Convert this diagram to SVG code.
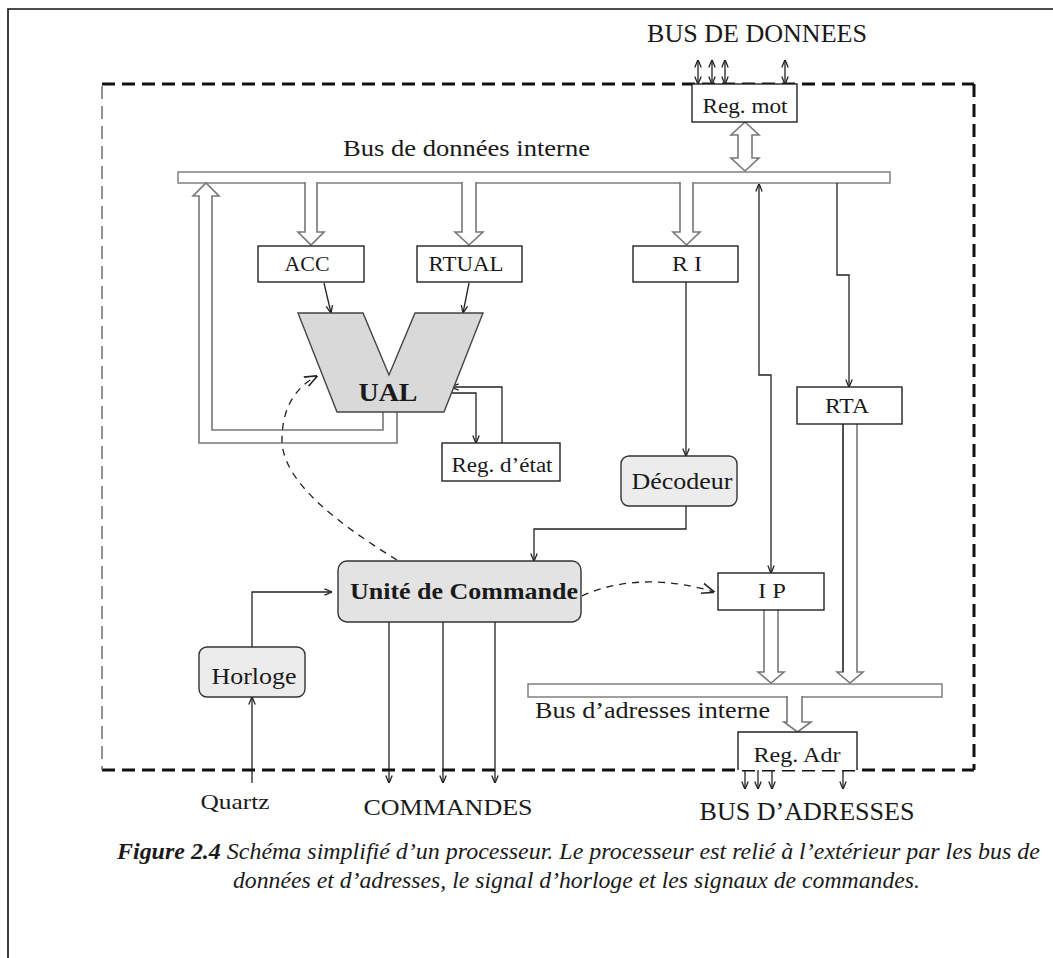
<svg xmlns="http://www.w3.org/2000/svg" width="1053" height="958" viewBox="0 0 1053 958" font-family="'Liberation Serif', 'Times New Roman', Times, serif">
<style>
text{fill:#1a1a1a}
.lbl{font-size:20px;text-anchor:middle}
.big{font-size:23px}
.box{fill:#fff;stroke:#222;stroke-width:1.4}
.rbox{fill:#ececec;stroke:#333;stroke-width:1.4}
.bus{fill:#fff;stroke:#888;stroke-width:1.6}
.hol{fill:#fff;stroke:#777;stroke-width:1.6;stroke-linejoin:miter}
.ln{fill:none;stroke:#222;stroke-width:1.3}
.dash{fill:none;stroke:#222;stroke-width:1.3;stroke-dasharray:7 6}
.frame{fill:none;stroke:#111;stroke-width:3;stroke-dasharray:13 7}
</style>
<defs>
<marker id="ah" viewBox="0 0 10 10" refX="9.5" refY="5" markerWidth="8" markerHeight="8" markerUnits="userSpaceOnUse" orient="auto-start-reverse">
<path d="M0,1 L10,5 L0,9" fill="none" stroke="#222" stroke-width="1.6"/>
</marker>
<marker id="ahd" viewBox="0 0 10 10" refX="9.5" refY="5" markerWidth="13" markerHeight="13" markerUnits="userSpaceOnUse" orient="auto">
<path d="M0,1 L10,5 L0,9" fill="none" stroke="#222" stroke-width="1.2"/>
</marker>
</defs>

<path d="M8,958 V9 H1053" fill="none" stroke="#111" stroke-width="1.6"/>
<g id="frame">
<line x1="102" y1="84" x2="974" y2="84" class="frame"/>
<line x1="974" y1="84" x2="974" y2="770" class="frame"/>
<line x1="102" y1="770" x2="974" y2="770" class="frame"/>
<line x1="102" y1="86" x2="102" y2="770" fill="none" stroke="#666" stroke-width="1.4" stroke-dasharray="13 7"/>
</g>

<g id="data-bus">
<rect x="178" y="172" width="712" height="11" class="bus"/>
<text x="343" y="156" class="big" textLength="247" lengthAdjust="spacingAndGlyphs">Bus de données interne</text>
</g>
<g id="addr-bus">
<rect x="528" y="684" width="414" height="13" class="bus"/>
<text x="535" y="718" class="big" textLength="235" lengthAdjust="spacingAndGlyphs">Bus d’adresses interne</text>
</g>

<g id="connectors">
<path class="hol" d="M305,182 V232 H298 L311,245 L324,232 H317 V182"/>
<path class="hol" d="M462,182 V232 H455 L469,245 L483,232 H476 V182"/>
<path class="hol" d="M680,182 V232 H673 L686.5,245 L700,232 H693 V182"/>
<path class="hol" d="M745,122 L759,135 H752 V158 H759 L745,171 L731,158 H738 V135 H731 Z"/>
<path d="M397,412 V443 H199 V196 H193 L206,183 L219,196 H212 V430 H383 V412" fill="none" stroke="#777" stroke-width="1.6"/>
<path class="hol" d="M764,610 V672 H758 L771,683 L784,672 H778 V610"/>
<path class="hol" d="M843,424 V672 H837 L850,683 L863,672 H857 V424"/>
<path class="hol" d="M787,696 V722 H784 L797.5,732 L811,722 H808 H802 V696"/>
<line x1="843" y1="424" x2="843" y2="672" stroke="#333" stroke-width="1.4"/>

<line x1="698" y1="60" x2="698" y2="84" class="ln" marker-start="url(#ah)" marker-end="url(#ah)"/>
<line x1="712" y1="60" x2="712" y2="84" class="ln" marker-start="url(#ah)" marker-end="url(#ah)"/>
<line x1="725" y1="60" x2="725" y2="84" class="ln" marker-start="url(#ah)" marker-end="url(#ah)"/>
<line x1="785" y1="60" x2="785" y2="84" class="ln" marker-start="url(#ah)" marker-end="url(#ah)"/>

<line x1="745" y1="770" x2="745" y2="789" class="ln" marker-end="url(#ah)"/>
<line x1="758" y1="770" x2="758" y2="789" class="ln" marker-end="url(#ah)"/>
<line x1="772" y1="770" x2="772" y2="789" class="ln" marker-end="url(#ah)"/>
<line x1="843" y1="770" x2="843" y2="789" class="ln" marker-end="url(#ah)"/>

<line x1="324" y1="283" x2="331" y2="313" class="ln" marker-end="url(#ah)"/>
<line x1="469" y1="283" x2="463" y2="313" class="ln" marker-end="url(#ah)"/>
<path class="ln" d="M448,393 H476 V443" marker-end="url(#ah)"/>
<path class="ln" d="M502,443 V387 H451" marker-end="url(#ah)"/>
<path class="ln" d="M686,282 V456" marker-end="url(#ah)"/>
<path class="ln" d="M771,573 V375 H759 V184" marker-start="url(#ah)" marker-end="url(#ah)"/>
<path class="ln" d="M837,183 V275 H849 V387" marker-end="url(#ah)"/>
<path class="ln" d="M686,506 V529 H534 V561" marker-end="url(#ah)"/>
<path class="ln" d="M252,647 V592 H332" marker-end="url(#ah)"/>
<path class="ln" d="M252,783 V697" marker-end="url(#ah)"/>
<path class="ln" d="M389,622 V783" marker-end="url(#ah)"/>
<path class="ln" d="M443,622 V783" marker-end="url(#ah)"/>
<path class="ln" d="M495,622 V783" marker-end="url(#ah)"/>
<path class="dash" d="M397,560 C340,525 282,482 282,440 C282,405 298,386 317,376" marker-end="url(#ahd)"/>
<path class="dash" d="M582,596 C620,578 670,578 714,592" marker-end="url(#ahd)"/>
</g>

<g id="reg-mot">
<rect x="692" y="84" width="105" height="38" class="box"/>
<text x="745" y="113" class="lbl" textLength="85" lengthAdjust="spacingAndGlyphs">Reg. mot</text>
</g>
<g id="acc">
<rect x="258" y="246" width="106" height="36" class="box"/>
<text x="307" y="271" class="lbl" textLength="45" lengthAdjust="spacingAndGlyphs">ACC</text>
</g>
<g id="rtual">
<rect x="417" y="246" width="105" height="36" class="box"/>
<text x="466" y="271" class="lbl" textLength="75" lengthAdjust="spacingAndGlyphs">RTUAL</text>
</g>
<g id="ri">
<rect x="633" y="246" width="105" height="36" class="box"/>
<text x="687" y="271" class="lbl" textLength="30" lengthAdjust="spacingAndGlyphs">R I</text>
</g>
<g id="ual">
<polygon points="298,313 363,313 389,375 415,313 483,313 444,412 337,412" fill="#d9d9d9" stroke="#444" stroke-width="1.4"/>
<text x="388" y="401" class="lbl" style="font-size:25px;font-weight:bold" textLength="59" lengthAdjust="spacingAndGlyphs">UAL</text>
</g>
<g id="reg-etat">
<rect x="442" y="443" width="118" height="38" class="box"/>
<text x="502" y="472" class="lbl" textLength="101" lengthAdjust="spacingAndGlyphs">Reg. d’état</text>
</g>
<g id="rta">
<rect x="797" y="387" width="105" height="37" class="box"/>
<text x="847" y="413" class="lbl" textLength="44" lengthAdjust="spacingAndGlyphs">RTA</text>
</g>
<g id="decodeur">
<rect x="621" y="456" width="116" height="50" rx="8" class="rbox"/>
<text x="682" y="489" class="lbl big" textLength="101" lengthAdjust="spacingAndGlyphs">Décodeur</text>
</g>
<g id="unite-commande">
<rect x="338" y="561" width="243" height="61" rx="9" fill="#e3e3e3" stroke="#333" stroke-width="1.4"/>
<text x="464" y="599" class="lbl big" style="font-weight:bold" textLength="228" lengthAdjust="spacingAndGlyphs">Unité de Commande</text>
</g>
<g id="ip">
<rect x="718" y="573" width="106" height="37" class="box"/>
<text x="772" y="598" class="lbl" textLength="28" lengthAdjust="spacingAndGlyphs">I P</text>
</g>
<g id="horloge">
<rect x="199" y="647" width="106" height="50" rx="8" class="rbox"/>
<text x="254" y="684" class="lbl big" textLength="85" lengthAdjust="spacingAndGlyphs">Horloge</text>
</g>
<g id="reg-adr">
<path d="M738,770 V732 H857 V770" fill="#fff" stroke="#222" stroke-width="1.4"/>
<text x="797" y="762" class="lbl" textLength="87" lengthAdjust="spacingAndGlyphs">Reg. Adr</text>
</g>

<g id="labels">
<text x="757" y="42" class="lbl" style="font-size:25px" textLength="220" lengthAdjust="spacingAndGlyphs">BUS DE DONNEES</text>
<text x="235" y="809" class="lbl" style="font-size:22px" textLength="69" lengthAdjust="spacingAndGlyphs">Quartz</text>
<text x="448" y="815" class="lbl" style="font-size:24px" textLength="169" lengthAdjust="spacingAndGlyphs">COMMANDES</text>
<text x="807" y="820" class="lbl" style="font-size:25px" textLength="215" lengthAdjust="spacingAndGlyphs">BUS D’ADRESSES</text>
</g>

<g id="caption" style="font-size:23.5px;font-style:italic">
<text x="117" y="859" textLength="923" lengthAdjust="spacingAndGlyphs"><tspan font-weight="bold">Figure 2.4</tspan> Schéma simplifié d’un processeur. Le processeur est relié à l’extérieur par les bus de</text>
<text x="233" y="888" textLength="687" lengthAdjust="spacingAndGlyphs">données et d’adresses, le signal d’horloge et les signaux de commandes.</text>
</g>
</svg>
